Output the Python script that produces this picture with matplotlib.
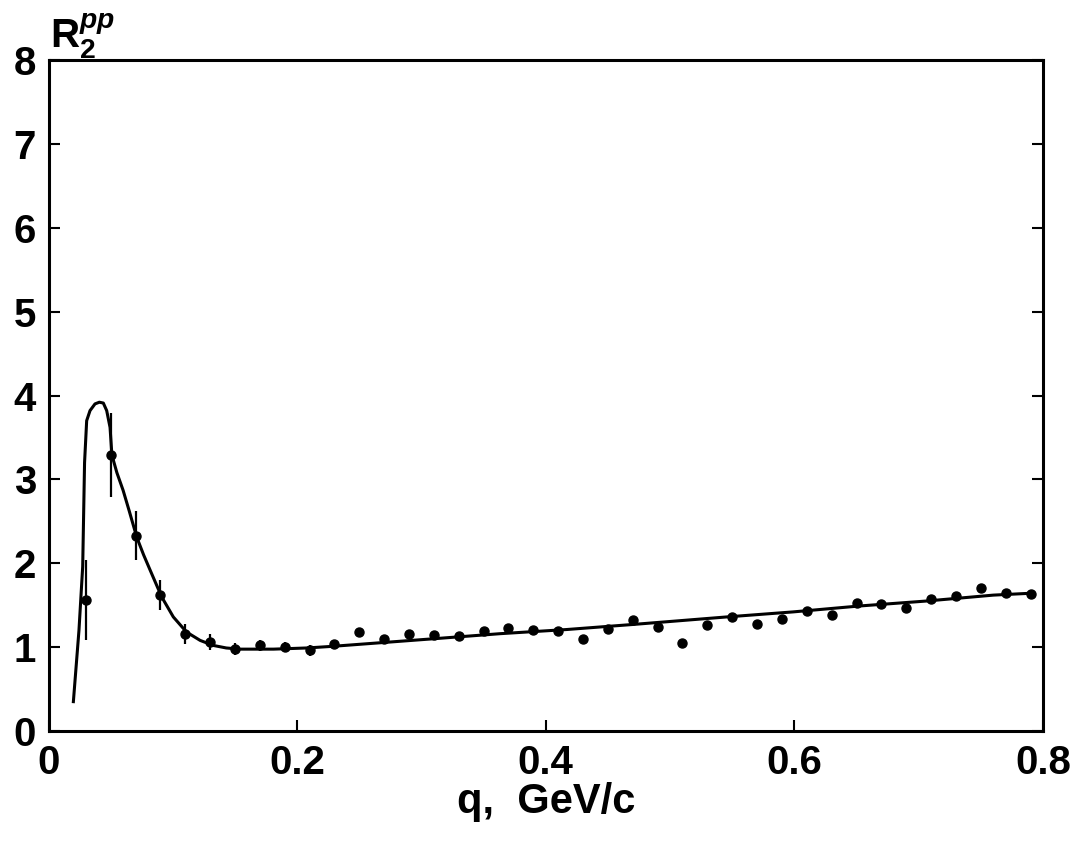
import matplotlib
matplotlib.use("Agg")
import matplotlib.pyplot as plt
import numpy as np

plt.rcParams['font.family'] = ['Liberation Sans', 'DejaVu Sans']
plt.rcParams['font.weight'] = 'bold'
plt.rcParams['mathtext.fontset'] = 'custom'
plt.rcParams['mathtext.rm'] = 'Liberation Sans:bold'
plt.rcParams['mathtext.it'] = 'Liberation Sans:italic:bold'

# data points
q = [0.03, 0.05, 0.07, 0.09, 0.11, 0.13, 0.15, 0.17, 0.19, 0.21,
     0.23, 0.25, 0.27, 0.29, 0.31, 0.33, 0.35, 0.37, 0.39, 0.41,
     0.43, 0.45, 0.47, 0.49, 0.51, 0.53, 0.55, 0.57, 0.59, 0.61,
     0.63, 0.65, 0.67, 0.69, 0.71, 0.73, 0.75, 0.77, 0.79]
r2 = [1.56, 3.29, 2.33, 1.62, 1.16, 1.06, 0.98, 1.02, 1.00, 0.96,
      1.04, 1.18, 1.10, 1.16, 1.15, 1.13, 1.19, 1.23, 1.21, 1.19,
      1.10, 1.22, 1.32, 1.24, 1.05, 1.26, 1.36, 1.28, 1.33, 1.43,
      1.38, 1.53, 1.52, 1.47, 1.57, 1.61, 1.71, 1.65, 1.63]
r2_err = [0.48, 0.50, 0.29, 0.18, 0.12, 0.10, 0.07, 0.07, 0.06, 0.06,
          0.05, 0.05, 0.04, 0.04, 0.04, 0.03, 0.04, 0.04, 0.03, 0.03,
          0.03, 0.03, 0.03, 0.03, 0.0, 0.04, 0.03, 0.0, 0.04, 0.03,
          0.04, 0.04, 0.03, 0.04, 0.03, 0.03, 0.04, 0.04, 0.04]

# fitted curve
fit_q = [0.020, 0.0245, 0.0275, 0.0290, 0.0307, 0.0334, 0.0374, 0.0409,
         0.0441, 0.0468, 0.0495, 0.051, 0.055, 0.060, 0.065,
         0.071, 0.0765, 0.0817, 0.091, 0.1004, 0.111, 0.122, 0.1326, 0.143,
         0.154, 0.181, 0.208, 0.229, 0.256, 0.31, 0.363, 0.417, 0.47,
         0.5456, 0.599, 0.652, 0.7066, 0.760, 0.787]
fit_r = [0.35, 1.20, 1.96, 3.20, 3.70, 3.82, 3.90, 3.92,
         3.91, 3.82, 3.62, 3.29, 3.08, 2.87, 2.62,
         2.31, 2.10, 1.92, 1.60, 1.36, 1.18, 1.08, 1.02, 0.99,
         0.976, 0.976, 0.99, 1.01, 1.04, 1.10, 1.16, 1.21, 1.27,
         1.36, 1.42, 1.49, 1.55, 1.62, 1.64]

xticks = [0, 0.2, 0.4, 0.6, 0.8]
xticklabels = ['0', '0.2', '0.4', '0.6', '0.8']
yticks = [0, 1, 2, 3, 4, 5, 6, 7, 8]

fig = plt.figure(figsize=(10.78, 8.5), dpi=100)
ax = fig.add_axes([0.045, 0.14, 0.9225, 0.7894])

ax.plot(fit_q, fit_r, color='black', lw=2.2, solid_joinstyle='round')
ax.errorbar(q, r2, yerr=r2_err, fmt='o', color='black', ms=6.5,
            elinewidth=1.6, capsize=0)

ax.set_xlim(0, 0.8)
ax.set_ylim(0, 8)
ax.set_xticks(xticks)
ax.set_xticklabels(xticklabels)
ax.set_yticks(yticks)
ax.tick_params(direction='in', length=8, width=1.5, labelsize=29,
               top=False, right=True, pad=9)
for s in ax.spines.values():
    s.set_linewidth(2.2)

ax.set_xlabel('q,  GeV/c', fontsize=30, fontweight='bold', labelpad=0)
fig.text(0.046, 0.958, r'R$_{2}^{\mathit{pp}}$', fontsize=29, fontweight='bold',
         ha='left', va='center')

fig.savefig('out.png', dpi=100)
